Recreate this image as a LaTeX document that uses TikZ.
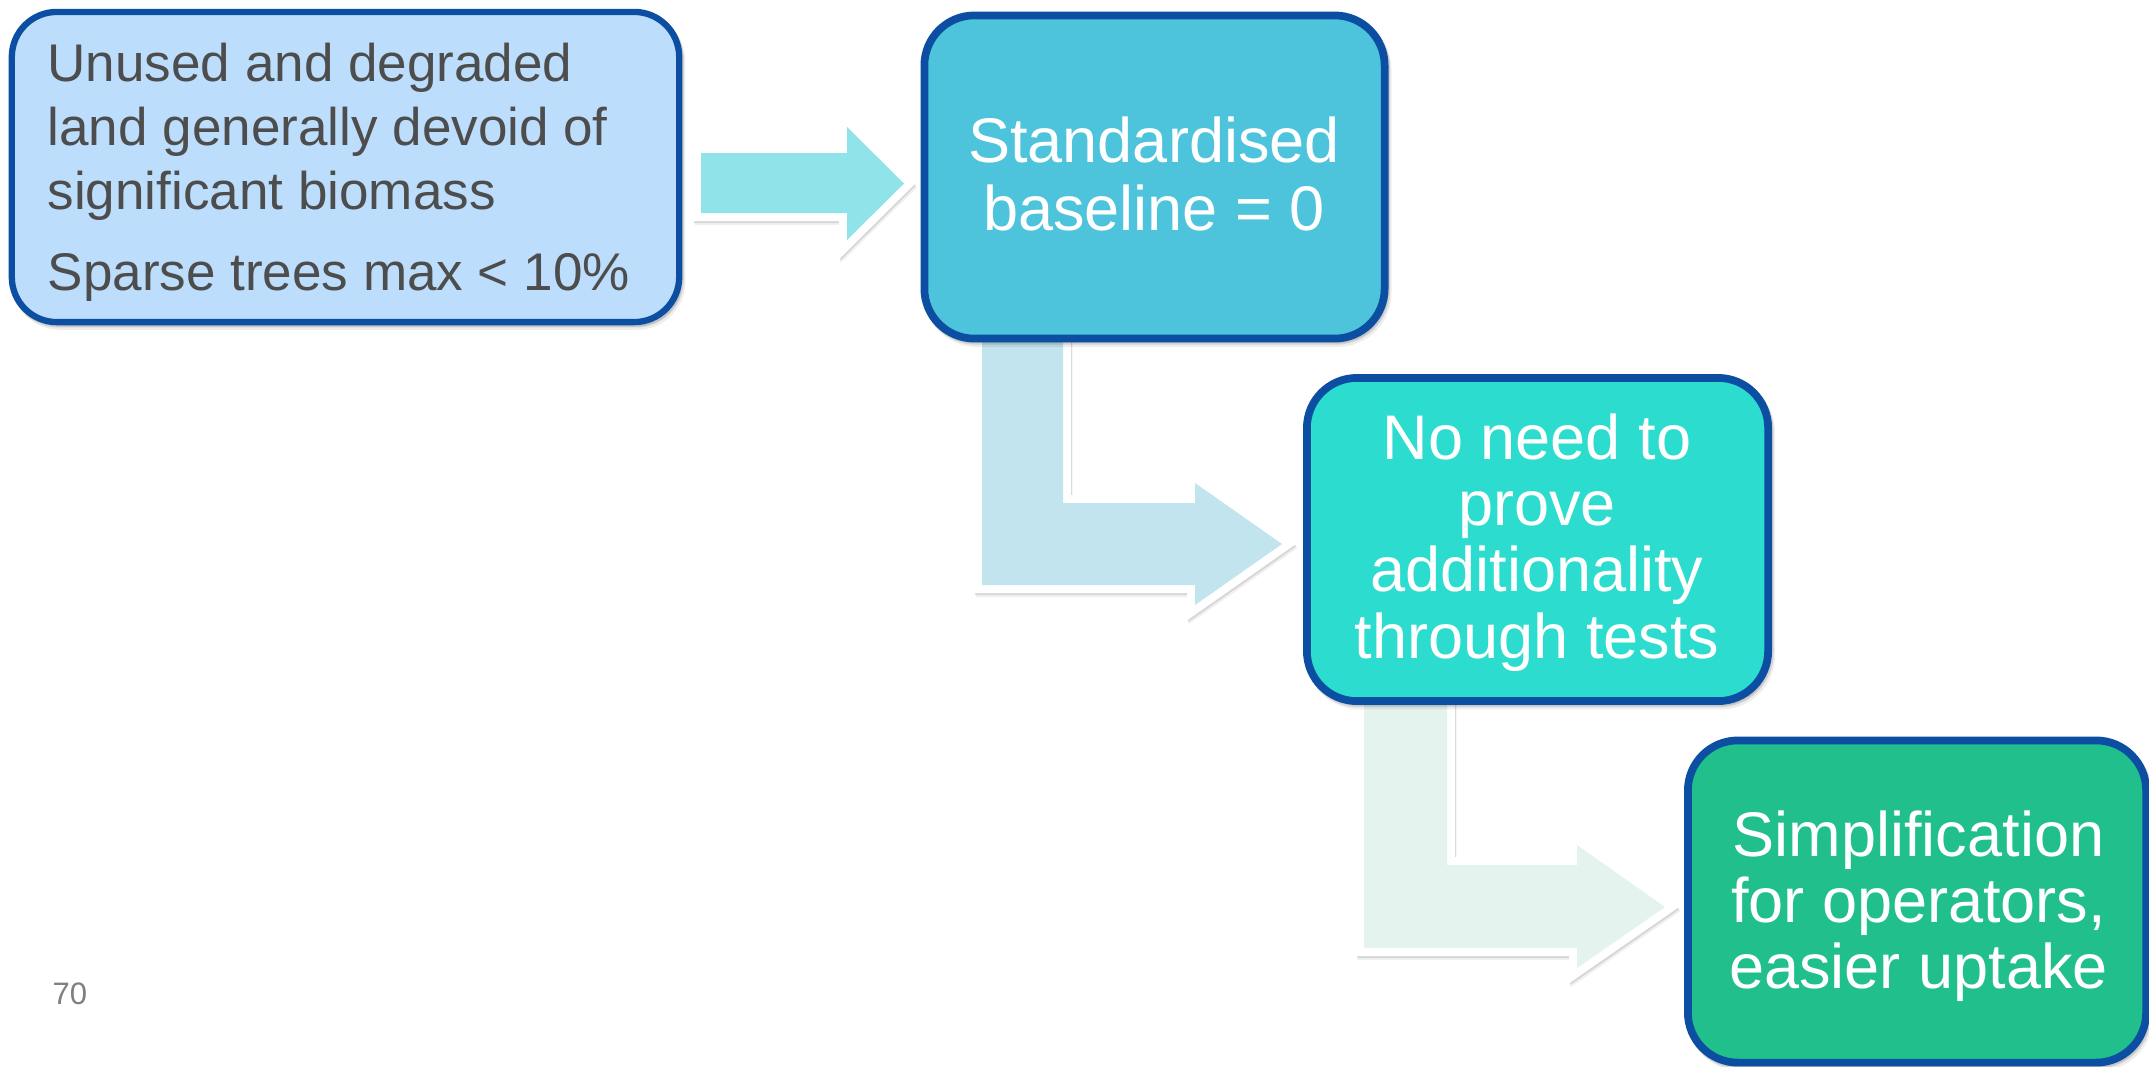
\documentclass[tikz,border=0pt]{standalone}
\usepackage{fontspec}
\setmainfont{Liberation Sans}

\definecolor{edgeblue}{HTML}{0B4EA2}
\definecolor{landfill}{HTML}{BCDDFB}
\definecolor{basefill}{HTML}{4DC4DC}
\definecolor{addfill}{HTML}{2CDCCE}
\definecolor{simpfill}{HTML}{20BF8B}
\definecolor{arrowA}{HTML}{90E3E8}
\definecolor{arrowB}{HTML}{C2E4EE}
\definecolor{arrowC}{HTML}{E5F3EE}
\definecolor{bodytext}{HTML}{4D4D4D}
\definecolor{pagegray}{HTML}{7F7F7F}

% block arrow outlines (1 unit = 1 px, y grows downwards)
\def\arrowApath{(701,153) -- (847,153) -- (847,127) -- (904,183.5) -- (847,240) -- (847,213) -- (701,213) -- cycle}
\def\arrowBpath{(982,300) -- (1063,300) -- (1063,503) -- (1195,503) -- (1195,483) -- (1282,544) -- (1195,605) -- (1195,585) -- (982,585) -- cycle}
\def\arrowCpath{(1364,650) -- (1447,650) -- (1447,865) -- (1577,865) -- (1577,845) -- (1665,907) -- (1577,968) -- (1577,948) -- (1364,948) -- cycle}

\begin{document}
\begin{tikzpicture}[x=0.01cm, y=-0.01cm,
  boxshade/.style={
    preaction={draw=black, fill=black, opacity=0.07,
      transform canvas={shift={(0.03cm,-0.045cm)}}},
    preaction={draw=black, fill=black, opacity=0.11,
      transform canvas={shift={(0.015cm,-0.022cm)}}}},
  stepbox/.style={draw=edgeblue, line width=2.2pt, rounded corners=0.5cm,
    inner sep=0pt, boxshade},
  rimshadeA/.style={draw=black, line width=4.55pt, line join=miter, opacity=0.06,
    transform canvas={shift={(0.015cm,-0.04cm)}}},
  rimshadeB/.style={draw=black, line width=4.55pt, line join=miter, opacity=0.10,
    transform canvas={shift={(0.008cm,-0.02cm)}}},
  rim/.style={draw=white, line width=4.55pt, line join=miter},
  darkfont/.style={font=\fontsize{15.08pt}{18.21pt}\selectfont, text=bodytext},
  whitefont/.style={font=\fontsize{17.93pt}{19.06pt}\selectfont, text=white,
    align=center, anchor=base, inner sep=0pt}
]
% page and background
\fill[white] (0,0) rectangle (2149,1066);
\useasboundingbox (0,0) rectangle (2149,1066);

% block arrows: soft shadow, white rim, coloured body
\draw[rimshadeA] \arrowApath;
\draw[rimshadeB] \arrowApath;
\draw[rim] \arrowApath;
\fill[arrowA] \arrowApath;

\draw[rimshadeA] \arrowBpath;
\draw[rimshadeB] \arrowBpath;
\draw[rim] \arrowBpath;
\fill[arrowB] \arrowBpath;

\draw[rimshadeA] \arrowCpath;
\draw[rimshadeB] \arrowCpath;
\draw[rim] \arrowCpath;
\fill[arrowC] \arrowCpath;

% rounded boxes
\node[stepbox, line width=1.8pt, rounded corners=0.45cm, fill=landfill,
  minimum width=6.67cm, minimum height=3.10cm] (b1) at (345.5,167) {};
\node[stepbox, fill=basefill, minimum width=4.60cm, minimum height=3.23cm]
  (b2) at (1154.5,177) {};
\node[stepbox, fill=addfill, minimum width=4.61cm, minimum height=3.23cm]
  (b3) at (1537.5,539.5) {};
\node[stepbox, fill=simpfill, minimum width=4.58cm, minimum height=3.22cm]
  (b4) at (1917,901.5) {};

% box texts (anchored at the baseline of their last line)
\node[darkfont, align=left, anchor=base west, inner sep=0pt] (t1) at (47,290)
  {Unused and degraded\\land generally devoid of\\significant biomass\\[4.55pt]Sparse trees max < 10\%};
\node[whitefont] (t2) at (1154,230) {Standardised\\baseline = 0};
\node[whitefont, font=\fontsize{17.93pt}{18.78pt}\selectfont] (t3) at (1537,658)
  {No need to\\prove\\additionality\\through tests};
\node[whitefont, font=\fontsize{17.93pt}{18.64pt}\selectfont] (t4) at (1918.5,988)
  {Simplification\\for operators,\\easier uptake};

% page number
\node[font=\fontsize{8.82pt}{10pt}\selectfont, text=pagegray, anchor=base west,
  inner sep=0pt] (pg) at (52,1004) {70};
\end{tikzpicture}
\end{document}
